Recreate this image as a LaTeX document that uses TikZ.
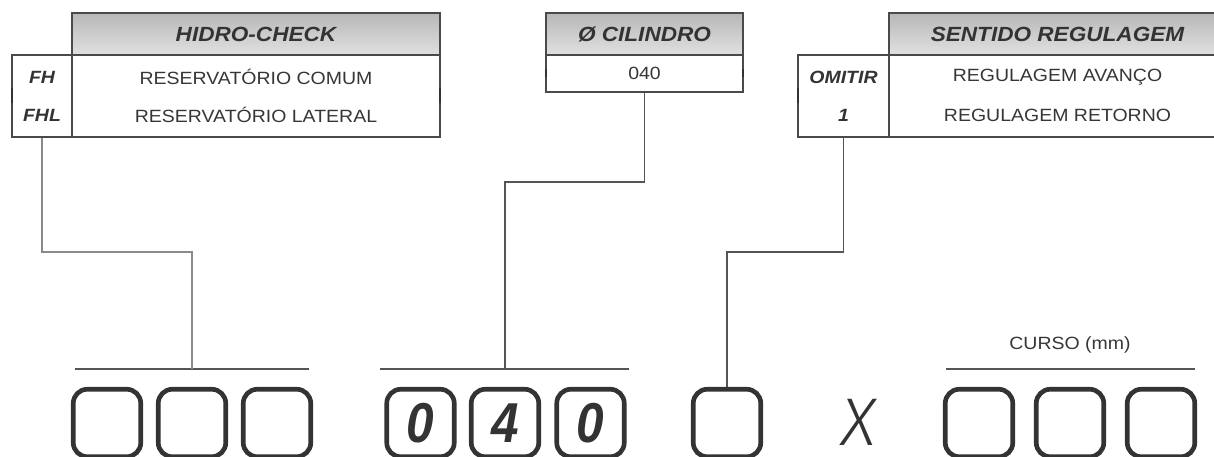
\documentclass[tikz,border=0pt]{standalone}
\usepackage{fontspec}
\setmainfont{Liberation Sans}[FakeStretch=1.1]
\newfontfamily\digitfont{Liberation Sans}[FakeStretch=0.88]
\newfontfamily\xfont{Fira Sans Light Italic}
\usetikzlibrary{calc}
\definecolor{ink}{HTML}{333333}
\definecolor{txt}{HTML}{363636}
\definecolor{rule}{HTML}{4A4A4A}
\definecolor{wire}{HTML}{555555}
\definecolor{wirelt}{HTML}{8A8A8A}
\begin{document}
\begin{tikzpicture}[x=0.025cm,y=-0.025cm,
  cell/.style={draw=rule, line width=1.1pt, inner sep=0pt, anchor=center},
  headcell/.style={cell, shading=axis, top color=black!28, middle color=white, bottom color=black!12},
  headtxt/.style={font=\fontsize{14.6}{16}\selectfont\bfseries\itshape, text=ink},
  codetxt/.style={font=\fontsize{12.6}{14}\selectfont\bfseries\itshape, text=ink},
  bodytxt/.style={font=\fontsize{12.6}{14}\selectfont, text=txt},
  tick/.style={draw=ink, line width=2pt},
  conn/.style={draw=wire, line width=1.1pt},
  connlt/.style={draw=wirelt, line width=1.5pt},
  bar/.style={draw=wire, line width=1.1pt},
  digitbox/.style={draw=ink, line width=3.3pt, rounded corners=10pt, minimum width=67.5*0.025cm, minimum height=67.5*0.025cm, inner sep=0pt},
  digit/.style={font=\digitfont\fontsize{40}{42}\selectfont\bfseries\itshape, text=ink, inner sep=0pt}]
\useasboundingbox (0,0) rectangle (1214,456);

% --- HIDRO-CHECK table
\node[headcell, minimum width=368*0.025cm, minimum height=42*0.025cm] (h1) at (256,34) {};
\node[headtxt] at (h1.center) {HIDRO-CHECK};
\node[cell, minimum width=60*0.025cm, minimum height=82*0.025cm] (c1) at (42,96) {};
\node[cell, minimum width=368*0.025cm, minimum height=82*0.025cm] (b1) at (256,96) {};
\node[codetxt] (fh) at (42,77) {FH};
\node[codetxt] (fhl) at (42,115) {FHL};
\node[bodytxt] (r1) at (256,77) {RESERVATÓRIO COMUM};
\node[bodytxt] (r2) at (256,115) {RESERVATÓRIO LATERAL};
\draw[tick] (12,88) -- (12,103);
\draw[tick] (440,88) -- (440,103);

% --- diameter table
\node[headcell, minimum width=197*0.025cm, minimum height=42*0.025cm] (h2) at (644.5,34) {};
\node[headtxt] at (h2.center) {Ø CILINDRO};
\node[cell, minimum width=197*0.025cm, minimum height=37*0.025cm] (b2) at (644.5,73.5) {};
\node[bodytxt] at (b2.center) {040};
\draw[tick] (546,69) -- (546,77);
\draw[tick] (743,69) -- (743,77);

% --- adjustment direction table
\node[headcell, minimum width=337*0.025cm, minimum height=42*0.025cm] (h3) at (1057.5,34) {};
\node[headtxt] at (h3.center) {SENTIDO REGULAGEM};
\node[cell, minimum width=91*0.025cm, minimum height=82*0.025cm] (c3) at (843.5,96) {};
\node[cell, minimum width=337*0.025cm, minimum height=82*0.025cm] (b3) at (1057.5,96) {};
\node[codetxt] at (843.5,77) {OMITIR};
\node[codetxt] at (843.5,115) {1};
\node[bodytxt] at (1057.5,77) {REGULAGEM AVANÇO};
\node[bodytxt] at (1057.5,115) {REGULAGEM RETORNO};
\draw[tick] (798,88) -- (798,103);

% --- code boxes
\node[digitbox] (d1) at (107,423) {};
\node[digitbox] (d2) at (192,423) {};
\node[digitbox] (d3) at (277,423) {};
\node[digitbox] (d4) at (420.5,423) {};
\node[digitbox] (d5) at (505,423) {};
\node[digitbox] (d6) at (590.5,423) {};
\node[digitbox] (d7) at (727,423) {};
\node[digitbox] (d8) at (979,423) {};
\node[digitbox] (d9) at (1070,423) {};
\node[digitbox] (d10) at (1161,423) {};
\node[digit] at (d4.center) {0};
\node[digit] at (d5.center) {4};
\node[digit] at (d6.center) {0};
\node[font=\xfont\fontsize{48}{50}\selectfont, text=ink, inner sep=0pt] (times) at (859,422) {X};
\node[bodytxt] (curso) at (1070,345) {CURSO (mm)};

% --- group rules above the boxes
\coordinate (g1) at (192,369);
\coordinate (g2) at (505,369);
\coordinate (g3) at (1070,369);
\draw[bar] (75,369) -- (309,369);
\draw[bar] (380,369) -- (629,369);
\draw[bar] (946,369) -- (1195,369);

% --- connectors
\draw[connlt] (c1.south) -- ++(0,114) -| (g1);
\draw[conn] (b2.south) -- ++(0,89) -| (g2);
\draw[conn] (c3.south) -- ++(0,114) -| (d7.north);
\end{tikzpicture}
\end{document}
